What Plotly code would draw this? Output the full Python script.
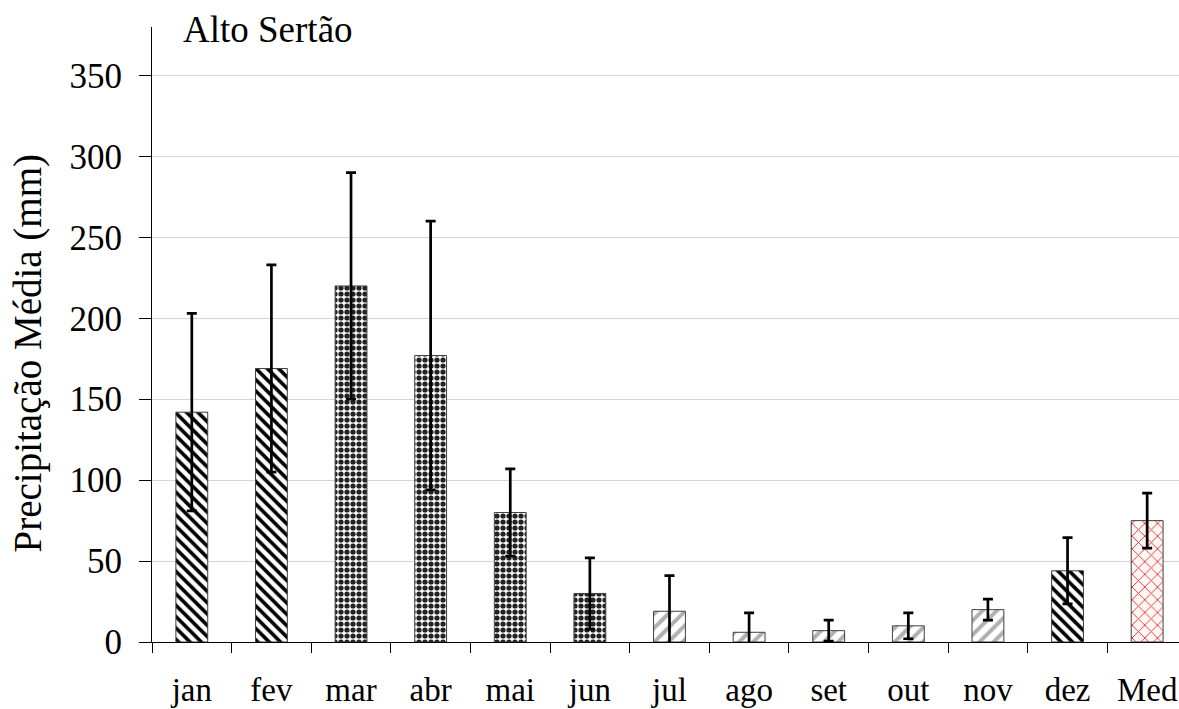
import plotly.graph_objects as go

categories = ["jan", "fev", "mar", "abr", "mai", "jun", "jul", "ago", "set", "out", "nov", "dez", "Med"]
precip_mean = [142, 169, 220, 177, 80, 30, 19, 6, 7, 10, 20, 44, 75]
precip_sd = [61, 64, 70, 83, 27, 22, 22, 12, 6.5, 8, 6.5, 20.5, 17]

y_ticks = [0, 50, 100, 150, 200, 250, 300, 350]

shapes = ["\\", "\\", ".", ".", ".", ".", "/", "/", "/", "/", "/", "\\", "x"]
fgcols = ["#000000", "#000000", "#222222", "#222222", "#222222", "#222222",
          "#b0b0b0", "#b0b0b0", "#b0b0b0", "#b0b0b0", "#b0b0b0", "#000000", "#e03a3a"]
bgcols = ["#ffffff"] * 12 + ["#fff6f6"]
sizes = [8, 8, 6, 6, 6, 6, 10, 10, 10, 10, 10, 8, 9]
solid = [0.45, 0.45, 0.6, 0.6, 0.6, 0.6, 0.4, 0.4, 0.4, 0.4, 0.4, 0.45, 0.2]

FONT = "Liberation Serif"

W, H = 1179, 709
ML, MT, MB = 152, 27, 67
PW, PH = W - ML, H - MT - MB

fig = go.Figure()
fig.add_trace(go.Bar(
    x=categories,
    y=precip_mean,
    width=0.4,
    marker=dict(
        color="#ffffff",
        line=dict(color="#404040", width=1),
        pattern=dict(shape=shapes, fgcolor=fgcols, bgcolor=bgcols,
                     size=sizes, solidity=solid, fillmode="replace", fgopacity=1),
    ),
    error_y=dict(type="data", array=precip_sd, visible=True,
                 color="#000000", thickness=2.7, width=5),
    showlegend=False,
))

fig.update_layout(
    width=W, height=H,
    margin=dict(l=ML, r=0, t=MT, b=MB, autoexpand=False),
    paper_bgcolor="white", plot_bgcolor="white",
    font=dict(family=FONT, color="#000000"),
    bargap=0.6,
)

fig.update_yaxes(
    range=[0, 380],
    tickvals=y_ticks,
    ticks="outside", ticklen=12, tickcolor="#000000", tickwidth=1,
    showline=True, linecolor="#000000", linewidth=1,
    showgrid=True, gridcolor="#d4d4d4", gridwidth=1,
    zeroline=False,
    tickfont=dict(family=FONT, size=35, color="#000000"),
    ticklabelstandoff=10,
    automargin=False,
)

fig.update_xaxes(
    range=[-0.5, 12.4],
    type="category",
    tickson="boundaries",
    ticks="outside", ticklen=10, tickcolor="#000000", tickwidth=1,
    showline=True, linecolor="#000000", linewidth=1,
    showgrid=False,
    tickfont=dict(family=FONT, size=33, color="#000000"),
    ticklabelstandoff=18,
    automargin=False,
)

fig.add_annotation(
    text="Alto Sertão", xref="paper", yref="paper",
    x=(181 - ML) / PW, y=1 - (29 - MT) / PH, xanchor="left", yanchor="middle",
    showarrow=False, font=dict(family=FONT, size=37, color="#000000"),
)

fig.add_annotation(
    text="Precipitação Média (mm)", xref="paper", yref="paper",
    x=(27.5 - ML) / PW, y=1 - (353 - MT) / PH,
    xanchor="center", yanchor="middle", textangle=-90,
    showarrow=False, font=dict(family=FONT, size=39, color="#000000"),
)

fig.write_html(
    "out.html",
    config={"displayModeBar": False},
    post_script="document.body.style.margin='0';document.body.style.overflow='hidden';",
)
